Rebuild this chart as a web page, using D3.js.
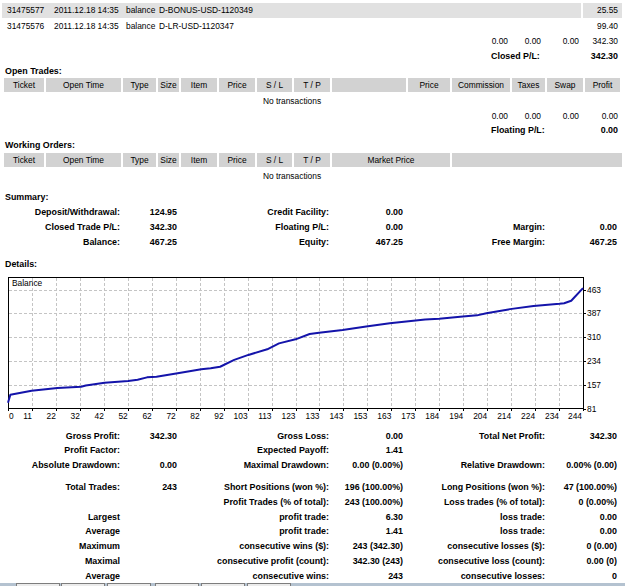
<!DOCTYPE html>
<html>
<head>
<meta charset="utf-8">
<script src="https://cdn.jsdelivr.net/npm/d3@7"></script>
<style>
body { margin: 0; background: #fff; }
text { font-family: "Liberation Sans", Arial, sans-serif; font-size: 8.4px; fill: #000; }
.b { font-weight: bold; font-size: 8.9px; }
</style>
</head>
<body>
<svg id="st" width="625" height="586"></svg>
<script>
// closed transactions (last two rows visible)
let tickets = ['31475577', '31475576']
let openTimes = ['2011.12.18 14:35', '2011.12.18 14:35']
let types = ['balance', 'balance']
let items = ['D-BONUS-USD-1120349', 'D-LR-USD-1120347']
let profits = ['25.55', '99.40']
let closedTotals = ['0.00', '0.00', '0.00', '342.30']
let openTotals = ['0.00', '0.00', '0.00', '0.00']
let openHeads = ['Ticket', 'Open Time', 'Type', 'Size', 'Item', 'Price', 'S / L', 'T / P', '', 'Price', 'Commission', 'Taxes', 'Swap', 'Profit']
let orderHeads = ['Ticket', 'Open Time', 'Type', 'Size', 'Item', 'Price', 'S / L', 'T / P', 'Market Price', '']

// summary block
let sumLabelsA = ['Deposit/Withdrawal:', 'Closed Trade P/L:', 'Balance:']
let sumValuesA = ['124.95', '342.30', '467.25']
let sumLabelsB = ['Credit Facility:', 'Floating P/L:', 'Equity:']
let sumValuesB = ['0.00', '0.00', '467.25']
let sumLabelsC = ['', 'Margin:', 'Free Margin:']
let sumValuesC = ['', '0.00', '467.25']

// balance curve (trade number, balance)
let balanceIdx = [0, 1, 10, 21, 31, 33, 41, 51, 55, 59, 63, 72, 82, 86, 90, 96, 102, 110, 115, 122, 128, 132, 142, 152, 162, 171, 177, 183, 193, 199, 203, 213, 223, 234, 236, 239, 244]
let balanceVals = [99.4, 124.95, 138, 147, 151, 155, 164, 169, 173, 181, 183, 194, 207, 210, 215, 237, 253, 271, 290, 303, 320, 324, 333, 344, 355, 362, 367, 369, 376, 380, 387, 400, 410, 417, 419, 427, 467.25]
let xTickLabels = ['0', '11', '22', '32', '42', '52', '62', '72', '82', '92', '103', '113', '123', '133', '143', '153', '163', '173', '184', '194', '204', '214', '224', '234', '244']
let yTickLabels = [81, 157, 234, 310, 387, 463]

// report details
let detLabelsA = ['Gross Profit:', 'Profit Factor:', 'Absolute Drawdown:', 'Total Trades:', '', 'Largest', 'Average', 'Maximum', 'Maximal', 'Average']
let detValuesA = ['342.30', '', '0.00', '243', '', '', '', '', '', '']
let detLabelsB = ['Gross Loss:', 'Expected Payoff:', 'Maximal Drawdown:', 'Short Positions (won %):', 'Profit Trades (% of total):', 'profit trade:', 'profit trade:', 'consecutive wins ($):', 'consecutive profit (count):', 'consecutive wins:']
let detValuesB = ['0.00', '1.41', '0.00 (0.00%)', '196 (100.00%)', '243 (100.00%)', '6.30', '1.41', '243 (342.30)', '342.30 (243)', '243']
let detLabelsC = ['Total Net Profit:', '', 'Relative Drawdown:', 'Long Positions (won %):', 'Loss trades (% of total):', 'loss trade:', 'loss trade:', 'consecutive losses ($):', 'consecutive loss (count):', 'consecutive losses:']
let detValuesC = ['342.30', '', '0.00% (0.00)', '47 (100.00%)', '0 (0.00%)', '0.00', '0.00', '0 (0.00)', '0.00 (0)', '0']
let detRowY = [436, 450, 465, 487, 502, 517, 531, 546, 561, 576]

let svg = d3.select('#st')

function txt(x, y, s, anchor, bold) {
  return svg.append('text')
    .attr('x', x).attr('y', y + 3)
    .attr('text-anchor', anchor || 'start')
    .attr('class', bold ? 'b' : null)
    .text(s)
}

// ---- closed transactions ----
svg.append('rect').attr('x', 2).attr('y', 3).attr('width', 579).attr('height', 15).attr('fill', '#e1e1e1')
svg.append('rect').attr('x', 583).attr('y', 3).attr('width', 39).attr('height', 15).attr('fill', '#e1e1e1')
let rowY = [10, 26]
tickets.forEach((t, i) => {
  txt(7, rowY[i], t)
  txt(54, rowY[i], openTimes[i])
  txt(126, rowY[i], types[i])
  txt(159, rowY[i], items[i])
  txt(618, rowY[i], profits[i], 'end')
})
let totX = [508, 541, 579, 618]
closedTotals.forEach((v, i) => txt(totX[i], 41, v, 'end'))
txt(491, 56, 'Closed P/L:', 'start', true)
txt(618, 56, closedTotals[3], 'end', true)

// ---- header rows ----
let colEdges = [4, 46, 123, 158, 181, 219, 257, 294, 332, 408, 452, 512, 547, 585, 622]
function headRow(heads, edges, y) {
  heads.forEach((h, i) => {
    let x0 = edges[i], x1 = edges[i + 1] - 2
    svg.append('rect').attr('x', x0).attr('y', y - 7).attr('width', x1 - x0).attr('height', 14).attr('fill', '#d2d2d2')
    txt((x0 + x1) / 2, y, h, 'middle')
  })
}
txt(5, 71, 'Open Trades:', 'start', true)
headRow(openHeads, colEdges, 85)
txt(292, 101, 'No transactions', 'middle')
openTotals.forEach((v, i) => txt(totX[i], 116, v, 'end'))
txt(491, 130, 'Floating P/L:', 'start', true)
txt(618, 130, openTotals[3], 'end', true)

txt(5, 145, 'Working Orders:', 'start', true)
headRow(orderHeads, colEdges.slice(0, 9).concat([452, 624]), 160)
txt(292, 176, 'No transactions', 'middle')

// ---- summary ----
txt(5, 197, 'Summary:', 'start', true)
let sumY = [212, 227, 242]
sumY.forEach((yy, i) => {
  txt(120, yy, sumLabelsA[i], 'end', true)
  txt(177, yy, sumValuesA[i], 'end', true)
  txt(329, yy, sumLabelsB[i], 'end', true)
  txt(403, yy, sumValuesB[i], 'end', true)
  txt(545, yy, sumLabelsC[i], 'end', true)
  txt(617, yy, sumValuesC[i], 'end', true)
})

// ---- balance graph ----
txt(5, 264, 'Details:', 'start', true)
let x = d3.scaleLinear().domain([0, 244]).range([8, 583])
let y = d3.scaleLinear().domain([81, 463]).range([408.5, 289.5])
let g = svg.append('g')
g.append('rect').attr('x', 8.5).attr('y', 277.5).attr('width', 575).attr('height', 131)
  .attr('fill', '#fff').attr('stroke', '#000')

let xStep = 244 / (xTickLabels.length - 1)
g.selectAll('.vg').data(xTickLabels.slice(1, -1)).enter().append('line')
  .attr('x1', (d, i) => Math.round(x((i + 1) * xStep)) + 0.5)
  .attr('x2', (d, i) => Math.round(x((i + 1) * xStep)) + 0.5)
  .attr('y1', 278).attr('y2', 408)
  .attr('stroke', '#c4c4c4').attr('stroke-dasharray', '3,2')
g.selectAll('.hg').data(yTickLabels.slice(1)).enter().append('line')
  .attr('x1', 9).attr('x2', 583)
  .attr('y1', d => Math.round(y(d)) + 0.5).attr('y2', d => Math.round(y(d)) + 0.5)
  .attr('stroke', '#c4c4c4').attr('stroke-dasharray', '3,2')

txt(12, 283, 'Balance')

let line = d3.line().x((d, i) => x(balanceIdx[i])).y(d => y(d))
g.append('path').datum(balanceVals).attr('d', line)
  .attr('fill', 'none').attr('stroke', '#1414aa').attr('stroke-width', 2).attr('stroke-linejoin', 'round')

// axis labels
xTickLabels.forEach((s, i) => {
  let px = x(i * xStep)
  g.append('line').attr('x1', Math.round(px) + 0.5).attr('x2', Math.round(px) + 0.5)
    .attr('y1', 409).attr('y2', 411).attr('stroke', '#000')
  if (i === 0) txt(px + 1, 416, s, 'start')
  else txt(Math.min(px, 582), 416, s, 'end')
})
yTickLabels.forEach(v => {
  g.append('line').attr('x1', 584).attr('x2', 586)
    .attr('y1', Math.round(y(v)) + 0.5).attr('y2', Math.round(y(v)) + 0.5).attr('stroke', '#000')
  txt(587, y(v), String(v), 'start')
})

// ---- details ----
detRowY.forEach((yy, i) => {
  txt(120, yy, detLabelsA[i], 'end', true)
  txt(177, yy, detValuesA[i], 'end', true)
  txt(329, yy, detLabelsB[i], 'end', true)
  txt(403, yy, detValuesB[i], 'end', true)
  txt(545, yy, detLabelsC[i], 'end', true)
  txt(617, yy, detValuesC[i], 'end', true)
})

// bottom tab strip
svg.append('rect').attr('x', 0).attr('y', 583).attr('width', 625).attr('height', 3).attr('fill', '#b4c2d0')
let tabX = [16, 61, 107, 155, 201, 247]
tabX.forEach(tx => {
  svg.append('rect').attr('x', tx + 0.5).attr('y', 583.5).attr('width', 43).attr('height', 5)
    .attr('fill', '#ececec').attr('stroke', '#7d7d7d')
})
</script>
</body>
</html>
